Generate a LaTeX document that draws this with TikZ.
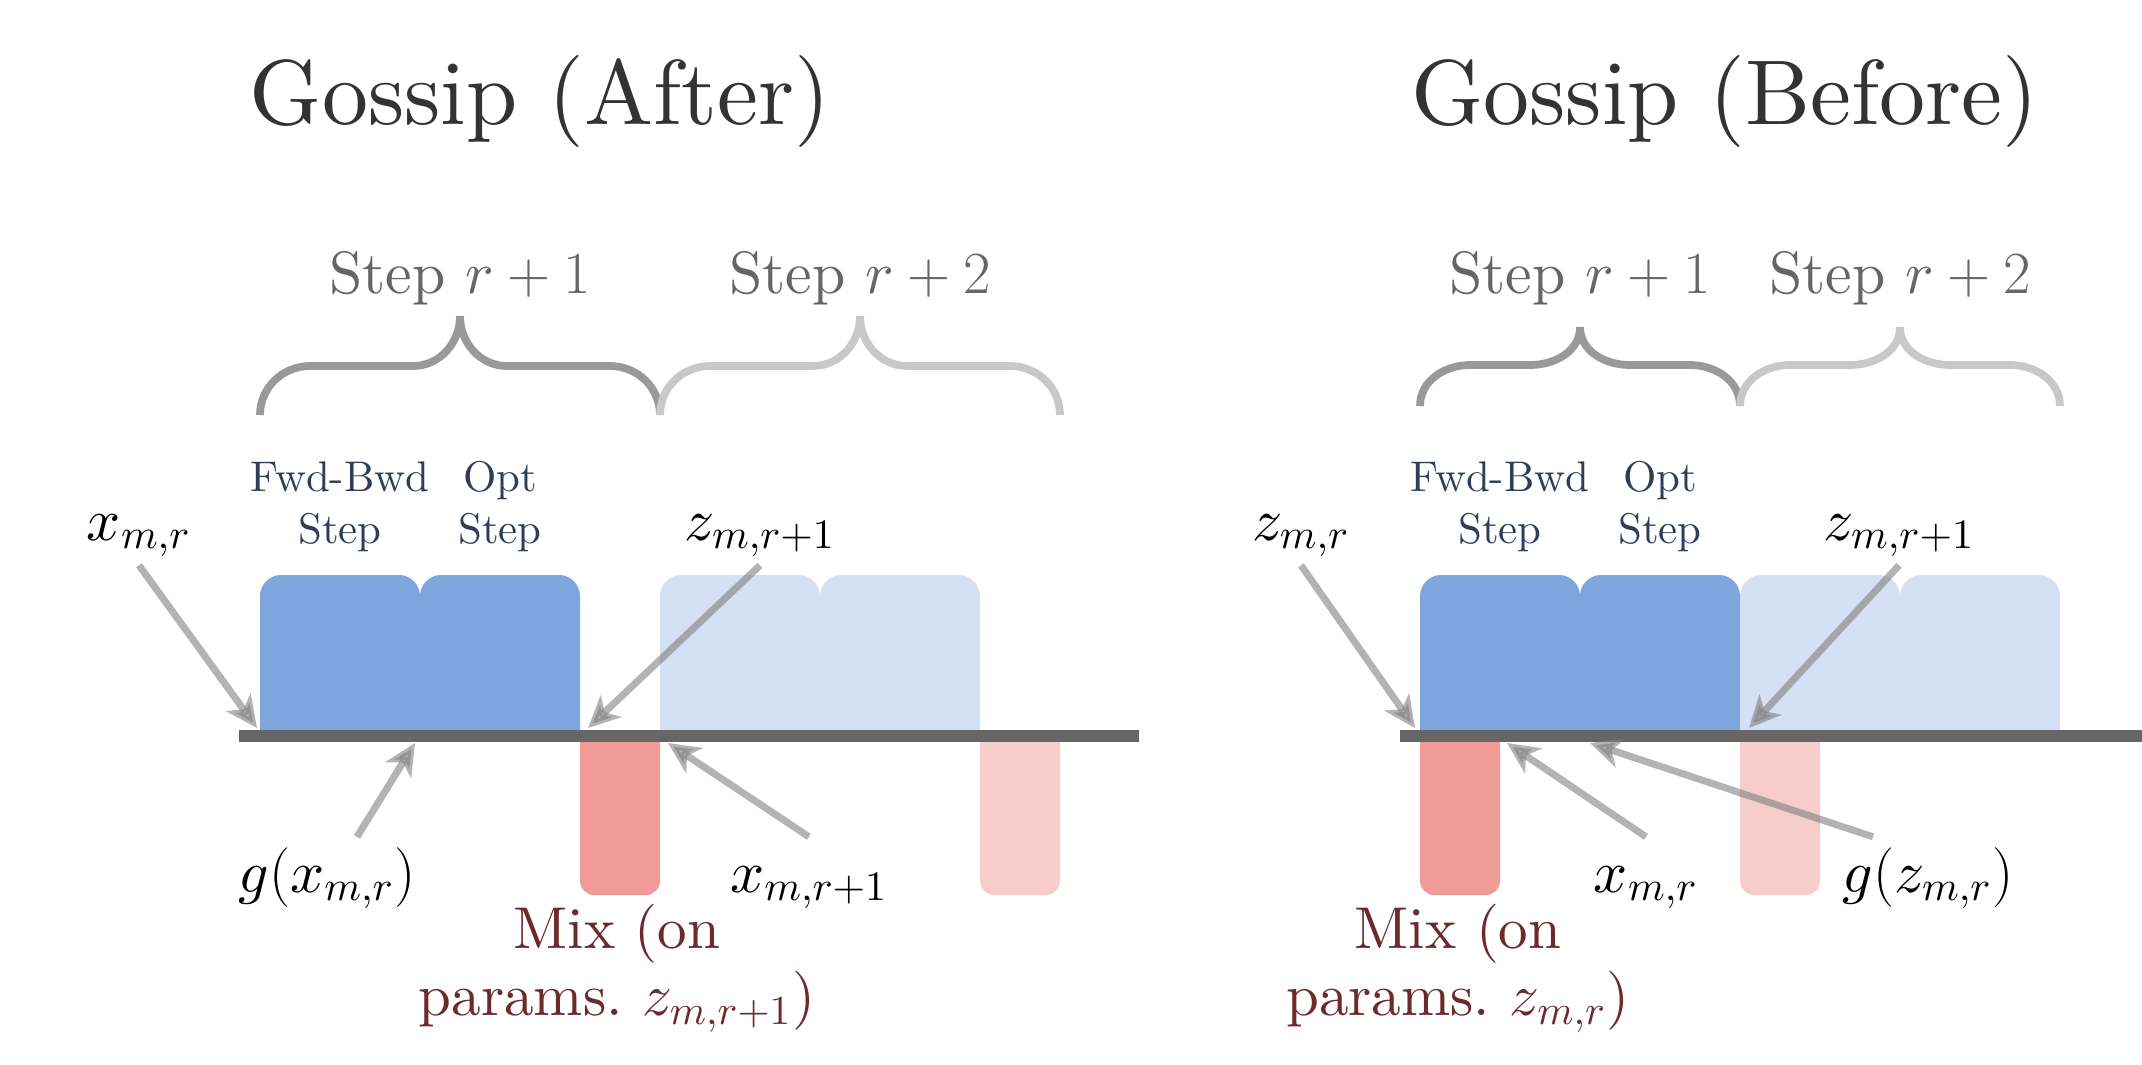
\RequirePackage{fix-cm}
\documentclass[tikz,border=0pt]{standalone}
\usepackage{fontspec}
\setmainfont{lmroman10-regular.otf}
\DeclareFontShape{OML}{cmm}{m}{it}{<-> cmmi10}{}
\usepackage{tikz}
\usetikzlibrary{arrows.meta}
\definecolor{FwdBlue}{RGB}{126,166,222}
\definecolor{FwdBlueLight}{RGB}{212,224,243}
\definecolor{MixRed}{RGB}{240,155,151}
\definecolor{MixRedLight}{RGB}{247,205,203}
\definecolor{BarGray}{RGB}{102,102,102}
\definecolor{PhaseText}{RGB}{46,62,90}
\definecolor{MixText}{RGB}{108,42,42}
\definecolor{TitleGray}{RGB}{51,51,51}
\definecolor{BraceDark}{RGB}{153,153,153}
\definecolor{BraceLight}{RGB}{200,200,200}

\begin{document}
\begin{tikzpicture}[
    headtxt/.style={font=\fontsize{26.2}{31}\selectfont, text=TitleGray, inner sep=0pt},
    steptxt/.style={font=\fontsize{17}{20}\selectfont, text=black!60, inner sep=0pt},
    phasetxt/.style={font=\fontsize{12.2}{14.8}\selectfont, text=PhaseText, align=center, inner sep=0pt},
    vartxt/.style={font=\fontsize{17}{20}\selectfont, text height=12.5pt, text depth=4pt, inner sep=3pt},
    mixtxt/.style={font=\fontsize{16.8}{19.3}\selectfont, text=MixText, align=center, inner sep=0pt},
    bracepath/.style={line width=2.2pt},
    ptr/.style={draw=black!50, opacity=.6, line width=2pt, -{Stealth[length=9pt,width=8.5pt,inset=2.5pt]}}
    ]
    \useasboundingbox (0,0) rectangle (21.42,10.64);

    %%Gossip (After)
    \node[headtxt, anchor=base] (hafter) at (5.40,9.39) {Gossip (After)};
    \draw[bracepath, BraceDark] (2.6,6.49) to[out=90,in=180] (3.1,6.98) -- (4.13,6.98) to[out=0,in=-90] (4.6,7.48)
        to[out=-90,in=180] (5.07,6.98) -- (6.1,6.98) to[out=0,in=90] (6.6,6.49);
    \draw[bracepath, BraceLight] (6.6,6.49) to[out=90,in=180] (7.1,6.98) -- (8.13,6.98) to[out=0,in=-90] (8.6,7.48)
        to[out=-90,in=180] (9.07,6.98) -- (10.1,6.98) to[out=0,in=90] (10.6,6.49);
    \node[steptxt, anchor=base] (stepa1) at (4.6,7.71) {Step $r+1$};
    \node[steptxt, anchor=base] (stepa2) at (8.6,7.71) {Step $r+2$};
    %% blocks
    \fill[FwdBlue, rounded corners=6pt] (2.6,3.3) |- (4.2,4.89) -- (4.2,3.3);
    \fill[FwdBlue, rounded corners=6pt] (4.2,3.3) |- (5.8,4.89) -- (5.8,3.3);
    \fill[FwdBlueLight, rounded corners=6pt] (6.6,3.3) |- (8.2,4.89) -- (8.2,3.3);
    \fill[FwdBlueLight, rounded corners=6pt] (8.2,3.3) |- (9.8,4.89) -- (9.8,3.3);
    \fill[MixRed, rounded corners=4pt] (5.8,3.26) |- (6.6,1.69) -- (6.6,3.26);
    \fill[MixRedLight, rounded corners=4pt] (9.8,3.26) |- (10.6,1.69) -- (10.6,3.26);
    \fill[BarGray] (2.39,3.22) rectangle (11.39,3.34);
    \node[phasetxt, anchor=north] (fwda) at (3.4,6.03) {Fwd-Bwd\\Step};
    \node[phasetxt, anchor=north] (opta) at (5.0,6.03) {Opt\\Step};
    %% variables
    \node[vartxt, anchor=base] (xa) at (1.39,5.24) {$x_{m,r}$};
    \node[vartxt, anchor=base] (za1) at (7.60,5.24) {$z_{m,r+1}$};
    \node[vartxt, anchor=base] (gxa) at (3.27,1.72) {$g(x_{m,r})$};
    \node[vartxt, anchor=base] (xa1) at (8.09,1.72) {$x_{m,r+1}$};
    \node[mixtxt, anchor=north] (mixa) at (6.17,1.61) {Mix (on\\params.\ $z_{m,r+1}$)};
    \coordinate (ta1) at (2.57,3.36);
    \coordinate (ta2) at (5.88,3.36);
    \coordinate (ta3) at (4.15,3.21);
    \coordinate (ta4) at (6.68,3.21);
    \draw[ptr] (xa.south) -- (ta1);
    \draw[ptr] (za1.south) -- (ta2);
    \draw[ptr] ([xshift=3mm]gxa.north) -- (ta3);
    \draw[ptr] (xa1.north) -- (ta4);

    %%%%%%%%%%%%%%%%%%%%%%%%%%%%%%%%%%%%%%%%%%%%%%%%

    %%Gossip (Before)
    \node[headtxt, anchor=base] (hbefore) at (17.25,9.39) {Gossip (Before)};
    \draw[bracepath, BraceDark] (14.2,6.58) to[out=90,in=180] (14.7,6.99) -- (15.3,6.99) to[out=0,in=-90] (15.8,7.37)
        to[out=-90,in=180] (16.3,6.99) -- (16.9,6.99) to[out=0,in=90] (17.4,6.58);
    \draw[bracepath, BraceLight] (17.4,6.58) to[out=90,in=180] (17.9,6.99) -- (18.5,6.99) to[out=0,in=-90] (19.0,7.37)
        to[out=-90,in=180] (19.5,6.99) -- (20.1,6.99) to[out=0,in=90] (20.6,6.58);
    \node[steptxt, anchor=base] (stepb1) at (15.8,7.71) {Step $r+1$};
    \node[steptxt, anchor=base] (stepb2) at (19.0,7.71) {Step $r+2$};
    %% blocks
    \fill[FwdBlue, rounded corners=6pt] (14.2,3.3) |- (15.8,4.89) -- (15.8,3.3);
    \fill[FwdBlue, rounded corners=6pt] (15.8,3.3) |- (17.4,4.89) -- (17.4,3.3);
    \fill[FwdBlueLight, rounded corners=6pt] (17.4,3.3) |- (19.0,4.89) -- (19.0,3.3);
    \fill[FwdBlueLight, rounded corners=6pt] (19.0,3.3) |- (20.6,4.89) -- (20.6,3.3);
    \fill[MixRed, rounded corners=4pt] (14.2,3.26) |- (15.0,1.69) -- (15.0,3.26);
    \fill[MixRedLight, rounded corners=4pt] (17.4,3.26) |- (18.2,1.69) -- (18.2,3.26);
    \fill[BarGray] (14.0,3.22) rectangle (21.42,3.34);
    \node[phasetxt, anchor=north] (fwdb) at (15.0,6.03) {Fwd-Bwd\\Step};
    \node[phasetxt, anchor=north] (optb) at (16.6,6.03) {Opt\\Step};
    %% variables
    \node[vartxt, anchor=base] (zb) at (13.01,5.24) {$z_{m,r}$};
    \node[vartxt, anchor=base] (zb1) at (18.99,5.24) {$z_{m,r+1}$};
    \node[vartxt, anchor=base] (xb) at (16.46,1.72) {$x_{m,r}$};
    \node[vartxt, anchor=base] (gzb) at (19.28,1.72) {$g(z_{m,r})$};
    \node[mixtxt, anchor=north] (mixb) at (14.58,1.61) {Mix (on\\params.\ $z_{m,r}$)};
    \coordinate (tb1) at (14.15,3.36);
    \coordinate (tb2) at (17.49,3.36);
    \coordinate (tb3) at (15.07,3.21);
    \coordinate (tb4) at (15.90,3.21);
    \draw[ptr] (zb.south) -- (tb1);
    \draw[ptr] (zb1.south) -- (tb2);
    \draw[ptr] (xb.north) -- (tb3);
    \draw[ptr] ([xshift=-5.5mm]gzb.north) -- (tb4);
\end{tikzpicture}
\end{document}
